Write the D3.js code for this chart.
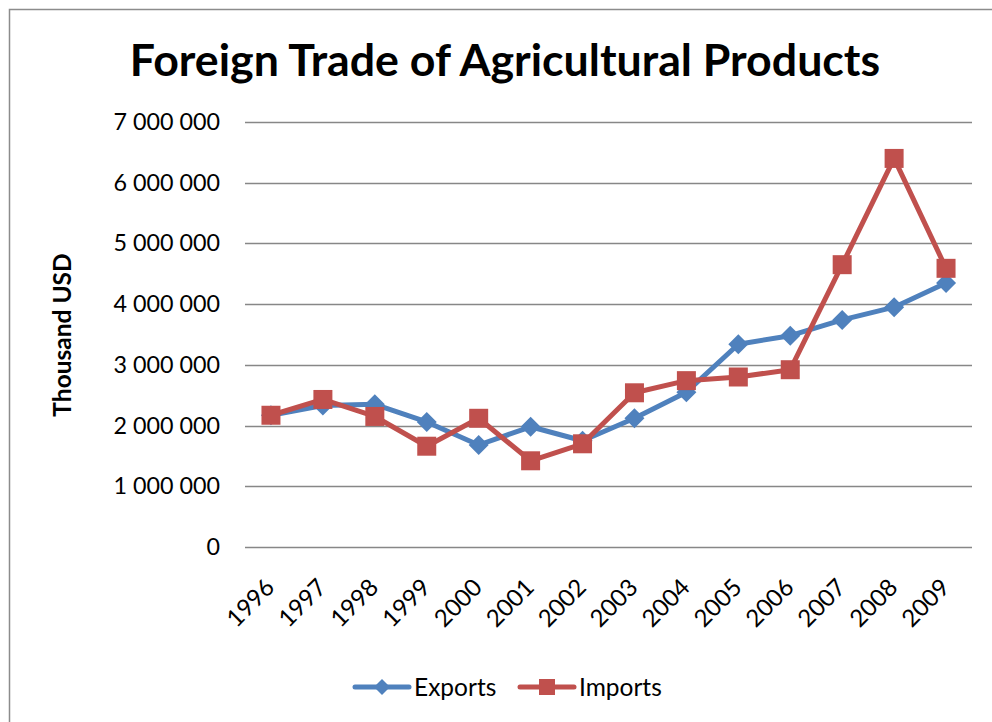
<!DOCTYPE html>
<html>
<head>
<meta charset="utf-8">
<script src="https://cdn.jsdelivr.net/npm/d3@7"></script>
<style>
  html, body { margin: 0; padding: 0; background: #fff; }
  svg { display: block; font-family: Lato, "Open Sans", sans-serif; }
</style>
</head>
<body>
<svg id="chart" width="992" height="722"></svg>
<script>
// Agricultural foreign trade, thousand USD
const years = ["1996","1997","1998","1999","2000","2001","2002","2003","2004","2005","2006","2007","2008","2009"];
const exportsValues = [2170000, 2330000, 2350000, 2060000, 1680000, 1980000, 1750000, 2120000, 2550000, 3340000, 3480000, 3740000, 3950000, 4350000];
const importsValues = [2170000, 2430000, 2150000, 1660000, 2120000, 1420000, 1700000, 2540000, 2740000, 2800000, 2920000, 4650000, 6400000, 4590000];
const yTicks = [0, 1000000, 2000000, 3000000, 4000000, 5000000, 6000000, 7000000];

const svg = d3.select("#chart");

// chart frame
svg.append("rect")
  .attr("x", 9.5).attr("y", 9.5)
  .attr("width", 1000).attr("height", 800)
  .attr("fill", "none").attr("stroke", "#8c8c8c").attr("stroke-width", 1.5);

const x = d3.scaleBand().domain(years).range([245, 972]);
const y = d3.scaleLinear().domain([0, 7000000]).range([547, 122]);

const fmt = v => d3.format(",")(v).replace(/,/g, " ");

// gridlines
svg.append("g").selectAll("line").data(yTicks).join("line")
  .attr("x1", 245).attr("x2", 972)
  .attr("y1", d => Math.round(y(d)) + 0.5).attr("y2", d => Math.round(y(d)) + 0.5)
  .attr("stroke", "#878787").attr("stroke-width", 1.6);

// y axis labels
const yAxis = d3.axisLeft(y).tickValues(yTicks).tickFormat(fmt).tickSize(0).tickPadding(25);
const gy = svg.append("g").attr("transform", "translate(245,0)").call(yAxis);
gy.select(".domain").remove();
gy.selectAll("text").attr("font-size", 23.3).attr("fill", "#000").attr("font-family", "Lato, sans-serif");

// x axis labels, rotated
const xAxis = d3.axisBottom(x).tickSize(0).tickPadding(0);
const gx = svg.append("g").attr("transform", "translate(0,547)").call(xAxis);
gx.select(".domain").remove();
gx.selectAll("text")
  .attr("font-size", 24).attr("fill", "#000").attr("font-family", "Lato, sans-serif")
  .attr("text-anchor", "end")
  .attr("dy", null).attr("y", 0)
  .attr("transform", "translate(5,42) rotate(-45)");

// title
svg.append("text")
  .attr("x", 505).attr("y", 76)
  .attr("text-anchor", "middle")
  .attr("font-size", 44.7).attr("font-weight", "bold")
  .text("Foreign Trade of Agricultural Products");

// y axis title
svg.append("text")
  .attr("transform", "translate(71,335) rotate(-90)")
  .attr("text-anchor", "middle")
  .attr("font-size", 24.5).attr("font-weight", "bold")
  .text("Thousand USD");

const cx = d => x(d) + x.bandwidth() / 2;
const line = d3.line().x(d => cx(d.year)).y(d => y(d.value));

const series = [
  { name: "Exports", values: exportsValues, color: "#4F81BD", shape: "diamond" },
  { name: "Imports", values: importsValues, color: "#C0504D", shape: "square" }
];

const diamond = s => `M0,${-s}L${s},0L0,${s}L${-s},0Z`;
const square = s => `M${-s},${-s}H${s}V${s}H${-s}Z`;

series.forEach(s => {
  const pts = years.map((yr, i) => ({ year: yr, value: s.values[i] }));
  svg.append("path").datum(pts)
    .attr("d", line)
    .attr("fill", "none").attr("stroke", s.color)
    .attr("stroke-width", 5).attr("stroke-linejoin", "round").attr("stroke-linecap", "round");
  svg.append("g").selectAll("path").data(pts).join("path")
    .attr("transform", d => `translate(${cx(d.year)},${y(d.value)})`)
    .attr("d", s.shape === "diamond" ? diamond(10) : square(9.5))
    .attr("fill", s.color);
});

// legend
const legend = [
  { name: "Exports", color: "#4F81BD", shape: "diamond", x0: 355 },
  { name: "Imports", color: "#C0504D", shape: "square", x0: 520 }
];
const lg = svg.append("g");
legend.forEach(l => {
  const ly = 687;
  lg.append("line")
    .attr("x1", l.x0).attr("x2", l.x0 + 54).attr("y1", ly).attr("y2", ly)
    .attr("stroke", l.color).attr("stroke-width", 5).attr("stroke-linecap", "round");
  lg.append("path")
    .attr("transform", `translate(${l.x0 + 27},${ly})`)
    .attr("d", l.shape === "diamond" ? diamond(8) : square(8))
    .attr("fill", l.color);
  lg.append("text")
    .attr("x", l.x0 + 59).attr("y", ly + 8.5)
    .attr("font-size", 24.5)
    .text(l.name);
});
</script>
</body>
</html>
